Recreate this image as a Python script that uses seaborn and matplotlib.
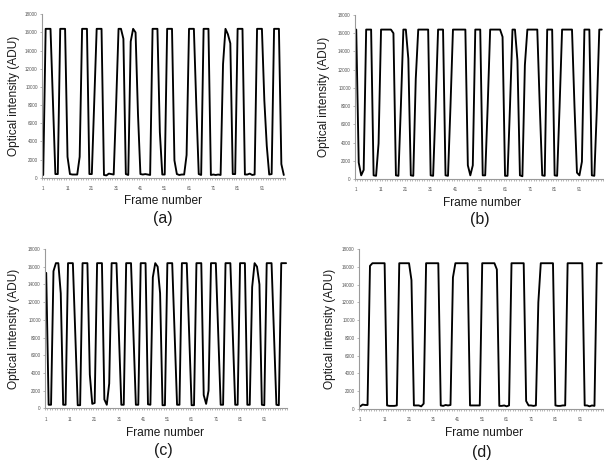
import matplotlib
matplotlib.use("Agg")
import matplotlib.pyplot as plt
import numpy as np
import pandas as pd
import seaborn as sns
from matplotlib.ticker import FixedLocator

frames = list(range(1, 101))

intensity_a = [
    300, 16400, 16400, 16400, 8400, 400, 400, 16400, 16400, 16400,
    2300, 400, 350, 350, 350, 2300, 16400, 16400, 16400, 400,
    400, 8400, 16400, 16400, 16400, 300, 250, 450, 400, 350,
    8000, 16400, 16400, 15300, 400, 300, 15000, 16400, 16000, 7000,
    400, 350, 400, 350, 300, 16400, 16400, 16400, 5000, 350,
    350, 16400, 16400, 16400, 1900, 400, 300, 350, 350, 2500,
    16400, 16400, 16400, 8000, 400, 300, 16400, 16400, 16400, 300,
    350, 300, 350, 300, 12500, 16400, 15800, 14800, 400, 400,
    16400, 16400, 16400, 350, 350, 450, 300, 350, 16400, 16400,
    16400, 8500, 3500, 350, 400, 16400, 16400, 16400, 1500, 300,
]

intensity_b = [
    16400, 1800, 400, 1000, 16400, 16400, 16400, 400, 350, 3900,
    16400, 16400, 16400, 16400, 16400, 16000, 400, 350, 8000, 16400,
    16400, 13200, 400, 350, 11000, 16400, 16400, 16400, 16400, 16400,
    400, 350, 8000, 16400, 16400, 16400, 400, 350, 8000, 16400,
    16400, 16400, 16400, 16400, 16400, 1500, 400, 1500, 16400, 16400,
    16400, 400, 400, 8000, 16400, 16400, 16400, 16400, 16400, 15600,
    350, 350, 8000, 16400, 16400, 13000, 400, 300, 12500, 16400,
    16400, 16400, 16400, 16400, 8000, 400, 350, 16400, 16400, 16400,
    400, 350, 8000, 16400, 16400, 16400, 16400, 16400, 8000, 700,
    400, 1900, 16400, 16400, 16400, 400, 350, 7500, 16400, 16400,
]

intensity_c = [
    15300, 400, 400, 15500, 16400, 16400, 13000, 400, 400, 16400,
    16400, 16400, 8400, 350, 350, 16400, 16400, 16400, 3800, 500,
    600, 16400, 16400, 16400, 1000, 400, 2800, 16400, 16400, 16400,
    8400, 400, 400, 16400, 16400, 16400, 8400, 400, 400, 16400,
    16400, 16400, 450, 400, 14800, 16400, 16000, 13000, 350, 350,
    16400, 16400, 16400, 8400, 400, 400, 16400, 16400, 16400, 8400,
    350, 350, 16400, 16400, 16400, 1500, 500, 2000, 16400, 16400,
    16400, 8400, 400, 400, 16400, 16400, 16400, 8400, 400, 400,
    16400, 16400, 16400, 400, 400, 13700, 16400, 16000, 14000, 400,
    350, 16400, 16400, 16400, 8400, 400, 350, 16400, 16400, 16400,
]

intensity_d = [
    300, 500, 450, 450, 16100, 16400, 16400, 16400, 16400, 16400,
    16400, 400, 350, 350, 350, 400, 16400, 16400, 16400, 16400,
    16400, 14500, 400, 400, 400, 300, 600, 16400, 16400, 16400,
    16400, 16400, 16400, 400, 350, 450, 400, 450, 14800, 16400,
    16400, 16400, 16400, 16400, 16400, 400, 400, 400, 400, 400,
    16400, 16400, 16400, 16400, 16400, 16400, 15700, 350, 350, 400,
    300, 400, 16400, 16400, 16400, 16400, 16400, 16400, 900, 400,
    400, 350, 400, 12000, 16400, 16400, 16400, 16400, 16400, 16400,
    400, 350, 350, 400, 400, 16400, 16400, 16400, 16400, 16400,
    16400, 16400, 400, 400, 300, 400, 350, 16400, 16400, 16400,
]

panel_labels = ["(a)", "(b)", "(c)", "(d)"]
x_tick_values = [1, 11, 21, 31, 41, 51, 61, 71, 81, 91]
x_tick_labels = ["1", "11", "21", "31", "41", "51", "61", "71", "81", "91"]
y_tick_values = [0, 2000, 4000, 6000, 8000, 10000, 12000, 14000, 16000, 18000]
x_label = "Frame number"
y_label = "Optical intensity (ADU)"

sns.set_theme(style="white")
plt.rcParams['font.family'] = ['Liberation Sans', 'DejaVu Sans']

W, H = 604, 466
fig = plt.figure(figsize=(W / 100, H / 100), dpi=100)

# pixel geometry: (left, top, width, height) of each plot area
geom = [
    (42, 14.3, 243, 163.4),
    (355, 15, 248, 164),
    (45, 249, 242.3, 159.3),
    (359, 249, 244, 160),
]
ylabel_x = [14, 324, 14.5, 330]
xlabel_pos = [(163, 201), (482, 203), (165, 433), (484, 433)]
panel_pos = [(163, 218), (480, 219), (163, 451), (482, 452)]

series = [intensity_a, intensity_b, intensity_c, intensity_d]

for i, vals in enumerate(series):
    l, t, w, h = geom[i]
    ax = fig.add_axes([l / W, 1 - (t + h) / H, w / W, h / H])
    df = pd.DataFrame({"Frame": frames, "Intensity": vals})
    sns.lineplot(data=df, x="Frame", y="Intensity", ax=ax, color="black",
                 linewidth=1.35, legend=False)
    ax.set_xlim(0.5, 100.5)
    ax.set_ylim(0, 18000)
    ax.set_facecolor("white")
    for s in ["top", "right"]:
        ax.spines[s].set_visible(False)
    for s in ["left", "bottom"]:
        ax.spines[s].set_color("#9a9a9a")
        ax.spines[s].set_linewidth(0.8)
    ax.xaxis.set_major_locator(FixedLocator(x_tick_values))
    ax.set_xticklabels(x_tick_labels)
    ax.xaxis.set_minor_locator(FixedLocator(np.arange(0.5, 101, 1.0)))
    ax.yaxis.set_major_locator(FixedLocator(y_tick_values))
    ax.set_yticklabels([str(v) for v in y_tick_values])
    ax.tick_params(axis="x", which="major", length=0, pad=6.0,
                   labelsize=3.3, labelcolor="#555555")
    ax.tick_params(axis="x", which="minor", bottom=True, length=1.6,
                   width=0.5, color="#9a9a9a", direction="out")
    ax.tick_params(axis="y", which="major", left=True, length=1.6,
                   width=0.5, color="#9a9a9a", direction="out", pad=1.5,
                   labelsize=3.3, labelcolor="#555555")
    ax.grid(False)

    ax.set_xlabel(x_label, fontsize=8.6, color="#1a1a1a")
    ax.set_ylabel(y_label, fontsize=8.6, color="#1a1a1a")
    xl, yl = xlabel_pos[i]
    ax.xaxis.set_label_coords((xl - l) / w, (t + h - yl) / h)
    ax.xaxis.label.set_verticalalignment("center")
    ax.yaxis.set_label_coords((ylabel_x[i] - l) / w, 0.5)
    ax.yaxis.label.set_verticalalignment("center")

    px, py = panel_pos[i]
    fig.text(px / W, 1 - py / H, panel_labels[i], ha="center", va="center",
             fontsize=11.5, color="#1a1a1a")

fig.savefig("out.png", dpi=100, facecolor="white")
